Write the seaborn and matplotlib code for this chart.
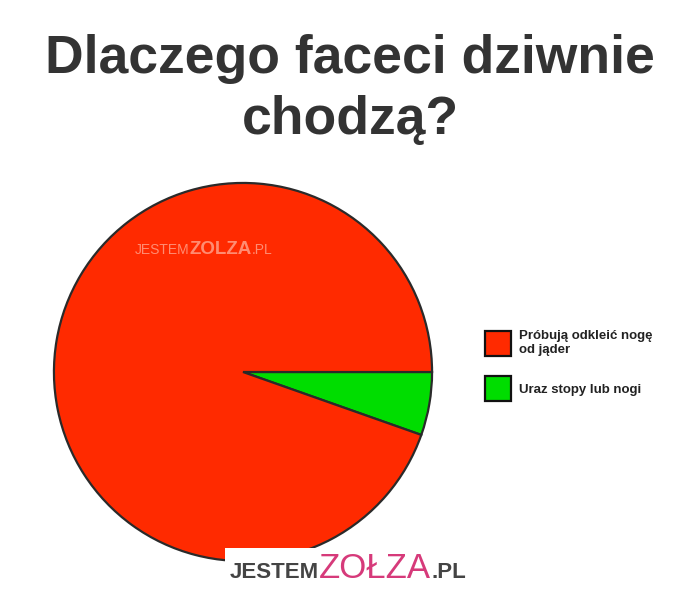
import matplotlib
matplotlib.use("Agg")
import matplotlib.pyplot as plt
import seaborn as sns
from matplotlib.patches import Rectangle

labels = ["Próbują odkleić nogę\nod jąder", "Uraz stopy lub nogi"]
values = [94.6, 5.4]
colors = ["#FF2A00", "#00DD00"]
title = "Dlaczego faceci dziwnie\nchodzą?"

sns.set_theme(style="white")
plt.rcParams['font.family'] = ['Liberation Sans', 'DejaVu Sans']

fig = plt.figure(figsize=(7, 6.09), dpi=100)
fig.patch.set_facecolor("white")

fig.text(0.5, 1 - 34/609, title, ha="center", va="top", fontsize=38.5, fontweight="bold",
         color="#333333", linespacing=1.27)

ax = fig.add_axes([243/700 - 190/700, 1 - (372 + 190)/609, 380/700, 380/609])
# draw green first so it runs clockwise from 3 o'clock downward
ax.pie(values[::-1], colors=colors[::-1], startangle=0, counterclock=False,
       wedgeprops=dict(edgecolor="#2a2a2a", linewidth=1.6))
ax.set_xlim(-1.005, 1.005)
ax.set_ylim(-1.005, 1.005)
ax.set_aspect("equal")
ax.axis("off")

# legend
handles = [Rectangle((0, 0), 1, 1, facecolor=c, edgecolor="#111111", linewidth=1.6) for c in colors]
leg = fig.legend(handles, labels, loc="upper left", bbox_to_anchor=(473/700, 1 - 318/609),
                 frameon=False, handlelength=2.0, handleheight=2.6, handletextpad=0.6,
                 labelspacing=1.5, prop=dict(weight="bold", size=9.5))
for t in leg.get_texts():
    t.set_color("#222222")

# watermark on pie
wm = "#FF8C72"
t1 = fig.text(135/700, 1 - 254/609, "JESTEM", fontsize=10, color=wm, va="baseline", ha="left")
t2 = fig.text(0, 0, "ZOLZA", fontsize=13.5, color=wm, fontweight="bold", va="baseline", ha="left")
t3 = fig.text(0, 0, ".PL", fontsize=10, color=wm, va="baseline", ha="left")
fig.canvas.draw()
r = fig.canvas.get_renderer()
def place_after(prev, cur):
    bb = prev.get_window_extent(r)
    x = bb.x1 / fig.bbox.width
    cur.set_position((x, prev.get_position()[1]))
place_after(t1, t2)
place_after(t2, t3)

# bottom logo
fig.patches.append(Rectangle((225/700, 1 - 592/609), 252/700, 44/609, transform=fig.transFigure,
                             facecolor="white", edgecolor="none", zorder=5))
b1 = fig.text(230/700, 1 - 578/609, "JESTEM", fontsize=16, color="#444444", fontweight="bold",
              va="baseline", ha="left", zorder=6)
b2 = fig.text(0, 0, "ZOŁZA", fontsize=25, color="#D63A7A", va="baseline", ha="left", zorder=6)
b3 = fig.text(0, 0, ".PL", fontsize=16, color="#444444", fontweight="bold",
              va="baseline", ha="left", zorder=6)
fig.canvas.draw()
place_after(b1, b2)
fig.canvas.draw()
place_after(b2, b3)

fig.savefig("out.png", dpi=100)
